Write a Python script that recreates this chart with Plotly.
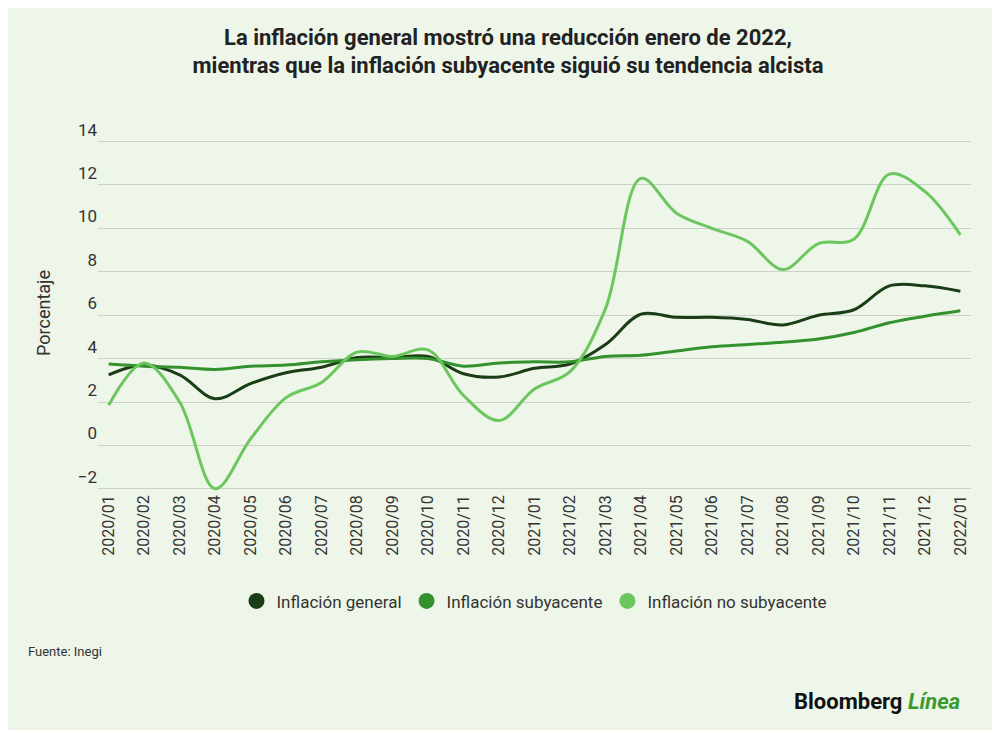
import plotly.graph_objects as go

meses = ["2020/01", "2020/02", "2020/03", "2020/04", "2020/05", "2020/06", "2020/07", "2020/08",
         "2020/09", "2020/10", "2020/11", "2020/12", "2021/01", "2021/02", "2021/03", "2021/04",
         "2021/05", "2021/06", "2021/07", "2021/08", "2021/09", "2021/10", "2021/11", "2021/12", "2022/01"]
general = [3.25, 3.7, 3.25, 2.15, 2.85, 3.35, 3.6, 4.05, 4.05, 4.1, 3.3, 3.15, 3.55, 3.75, 4.65,
           6.05, 5.9, 5.9, 5.8, 5.55, 6.0, 6.25, 7.35, 7.35, 7.1]
subyacente = [3.75, 3.65, 3.6, 3.5, 3.65, 3.7, 3.85, 3.95, 4.0, 4.0, 3.65, 3.8, 3.85, 3.85, 4.1,
              4.15, 4.35, 4.55, 4.65, 4.75, 4.9, 5.2, 5.65, 5.95, 6.2]
no_subyacente = [1.85, 3.8, 2.0, -2.0, 0.3, 2.2, 2.9, 4.3, 4.1, 4.4, 2.3, 1.15, 2.6, 3.4, 6.3,
                 12.3, 10.7, 10.0, 9.4, 8.1, 9.3, 9.5, 12.5, 11.7, 9.7]

fig = go.Figure()
for name, ys, col in [("Inflación general", general, "#1b3d16"),
                      ("Inflación subyacente", subyacente, "#33922d"),
                      ("Inflación no subyacente", no_subyacente, "#6cc65e")]:
    fig.add_trace(go.Scatter(x=meses, y=ys, name=name, mode="lines", showlegend=False,
                             line=dict(color=col, width=3, shape="spline")))
    # legend entry as a dot
    fig.add_trace(go.Scatter(x=[None], y=[None], name=name, mode="markers",
                             marker=dict(color=col, size=16)))

fig.update_layout(
    width=1000, height=730,
    paper_bgcolor="#eef6ea", plot_bgcolor="#eef6ea",
    font=dict(family="Roboto", size=16, color="#333"),
    title=dict(text="<b>La inflación general mostró una reducción enero de 2022,<br>mientras que la inflación subyacente siguió su tendencia alcista</b>",
               x=0.5, xanchor="center", y=0.95, font=dict(size=22, color="#222")),
    margin=dict(l=90, r=37, t=127, b=247),
    legend=dict(orientation="h", x=0.5, xanchor="center", y=-0.31, yanchor="middle",
                font=dict(size=17)),
    xaxis=dict(tickangle=-90, showgrid=False, tickfont=dict(size=16), range=[-0.3, 24.3]),
    yaxis=dict(title=dict(text="Porcentaje", font=dict(size=18), standoff=22), range=[-2.1, 14.3],
               tickvals=list(range(-2, 15, 2)), gridcolor="#c9d3c6", zeroline=False,
               ticklabelposition="outside top", tickfont=dict(size=17)),
)
fig.add_annotation(text="Fuente: Inegi", xref="paper", yref="paper", x=-0.083, y=-0.45,
                   xanchor="left", yanchor="middle", showarrow=False, font=dict(size=13))
fig.add_annotation(text="<b>Bloomberg</b> <b><i><span style='color:#3a9a2e'>Línea</span></i></b>",
                   xref="paper", yref="paper", x=0.99, y=-0.59, xanchor="right", yanchor="middle",
                   showarrow=False, font=dict(size=22, color="#111"))
fig.write_html("out.html")
